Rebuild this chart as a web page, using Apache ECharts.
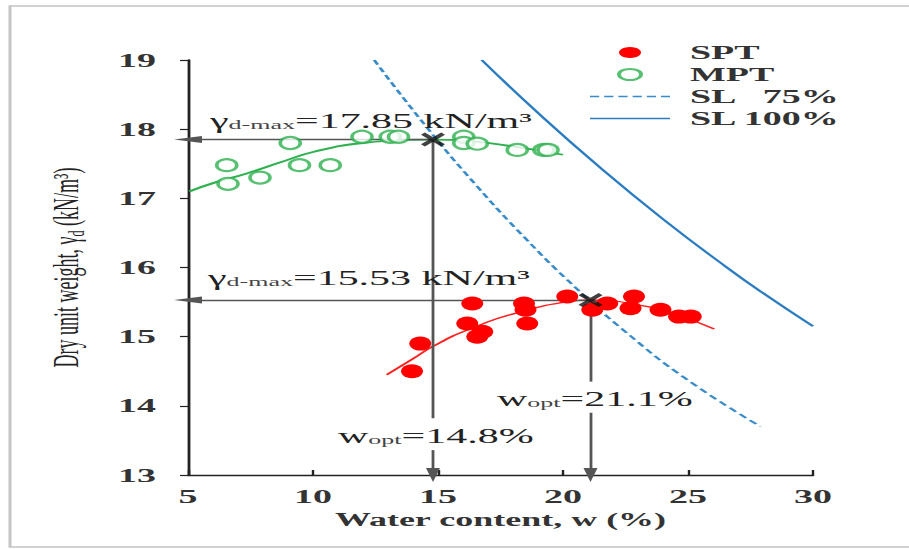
<!DOCTYPE html>
<html>
<head>
<meta charset="utf-8">
<script src="https://cdn.jsdelivr.net/npm/echarts@6/dist/echarts.min.js"></script>
<style>
html, body { margin: 0; padding: 0; background: #fff; overflow: hidden; }
/* the original figure is stretched sideways about 2x, so draw at half width and stretch */
#main { width: 454.5px; height: 549px; transform: scaleX(2); transform-origin: 0 0; }
</style>
</head>
<body>
<div id="main"></div>
<script>
// tick labels
var xTicks = [5, 10, 15, 20, 25, 30];
var yTicks = [13, 14, 15, 16, 17, 18, 19];

// measured points (w %, dry unit weight kN/m3)
var sptPoints = [[13.96, 14.5], [14.29, 14.9], [16.17, 15.19], [16.37, 15.48], [16.57, 15.0], [16.77, 15.07],
	[18.44, 15.48], [18.5, 15.39], [18.57, 15.19], [20.17, 15.58], [21.17, 15.39], [21.77, 15.48],
	[22.84, 15.58], [22.7, 15.41], [23.9, 15.39], [24.64, 15.29], [25.11, 15.29]];
var mptPoints = [[6.55, 17.48], [6.6, 17.21], [7.88, 17.3], [9.09, 17.8], [9.46, 17.48], [10.69, 17.48],
	[11.96, 17.89], [13.09, 17.89], [13.42, 17.89], [16.03, 17.89], [16.03, 17.8], [16.57, 17.79],
	[18.17, 17.7], [19.24, 17.7], [19.4, 17.7]];

// fitted curves
var sptCurve = [[12.95, 14.45], [14, 14.68], [14.8, 14.86], [16.2, 15.1], [18.3, 15.36], [20.3, 15.51],
	[21.1, 15.53], [23, 15.46], [24.5, 15.32], [26.05, 15.11]];
var mptCurve = [[5.05, 17.1], [6, 17.22], [7.35, 17.36], [8.7, 17.52], [10, 17.67], [12, 17.8],
	[14.8, 17.85], [16.5, 17.82], [18, 17.75], [20, 17.63]];

// saturation lines
var sl75 = [[12.45, 19.0], [14.5, 18.05], [16.5, 17.2], [18.5, 16.42], [20.5, 15.71], [22.5, 15.07], [25, 14.37], [27.9, 13.7]];
var sl100 = [[16.75, 19.0], [19, 18.235], [21.5, 17.44], [24, 16.7], [26.5, 16.015], [28, 15.63], [30, 15.15]];

// optimum points
var wOpt = [14.8, 21.1];
var gMax = [17.85, 15.53];

var serif = 'Liberation Serif, Times New Roman, serif';
var myChart = echarts.init(document.getElementById('main'), null, { renderer: 'svg' });

var xMark = 'path://M0,1.6L1.6,0L5,3.4L8.4,0L10,1.6L6.6,5L10,8.4L8.4,10L5,6.6L1.6,10L0,8.4L3.4,5Z';
var dashIcon = 'path://M0,0h4.6v1.6h-4.6zM7.1,0h4.6v1.6h-4.6zM14.2,0h4.6v1.6h-4.6zM21.3,0h4.6v1.6h-4.6zM28.4,0h4.6v1.6h-4.6zM35.5,0h4.5v1.6h-4.5z';
var lineIcon = 'path://M0,0h40v1.6h-40z';
var subStyle = { fontFamily: serif, fontSize: 13, fill: '#444', verticalAlign: 'bottom' };

var option = {
	backgroundColor: '#fff',
	animation: false,
	grid: { left: 94, right: 48.5, top: 60, bottom: 74 },
	xAxis: {
		type: 'value',
		min: xTicks[0],
		max: xTicks[xTicks.length - 1],
		interval: xTicks[1] - xTicks[0],
		name: 'Water content, w (%)',
		nameLocation: 'middle',
		nameGap: 36,
		nameTextStyle: { fontFamily: serif, fontSize: 18, fontWeight: 'bold', color: '#333' },
		axisLine: { lineStyle: { color: '#222', width: 1.4 } },
		axisTick: { inside: true, length: 5, lineStyle: { color: '#222', width: 1.2 } },
		axisLabel: { fontFamily: serif, fontSize: 19, fontWeight: 'bold', color: '#333', margin: 12 },
		splitLine: { show: false }
	},
	yAxis: {
		type: 'value',
		min: yTicks[0],
		max: yTicks[yTicks.length - 1],
		interval: yTicks[1] - yTicks[0],
		name: 'Dry unit weight, γ{s|d} (kN/m³)',
		nameLocation: 'middle',
		nameGap: 50,
		nameTextStyle: {
			fontFamily: serif, fontSize: 18, color: '#222', lineHeight: 22,
			rich: { s: { fontFamily: serif, fontSize: 12, color: '#222', verticalAlign: 'bottom', lineHeight: 22 } }
		},
		axisLine: { lineStyle: { color: '#222', width: 1.4 } },
		axisTick: { inside: false, length: 4, lineStyle: { color: '#222', width: 1.2 } },
		axisLabel: { fontFamily: serif, fontSize: 19, fontWeight: 'bold', color: '#333', margin: 16 },
		splitLine: { show: false }
	},
	legend: {
		orient: 'vertical',
		left: 295,
		top: 43,
		padding: 0,
		itemGap: 3,
		itemWidth: 40,
		itemHeight: 11,
		textStyle: { fontFamily: serif, fontSize: 19, fontWeight: 'bold', color: '#333', padding: [0, 0, 0, 5] },
		data: [
			{ name: 'SPT' },
			{ name: 'MPT' },
			{ name: 'SL \u00a0\u00a075%', icon: dashIcon, itemStyle: { color: '#3a8cc8' } },
			{ name: 'SL 100%', icon: lineIcon, itemStyle: { color: '#2b7cc0' } }
		]
	},
	graphic: [
		{ type: 'rect', silent: true, z: -10,
			shape: { x: 5, y: 6, width: 460, height: 541 },
			style: { fill: 'none', stroke: '#c4c4c4', lineWidth: 1.5 } },
		{ type: 'text', x: 105, y: 121, z: 100,
			style: { text: 'γ{s|d-max}=17.85 kN/m³', fontFamily: serif, fontSize: 21, fill: '#222', verticalAlign: 'middle', rich: { s: subStyle } } },
		{ type: 'text', x: 104, y: 278, z: 100,
			style: { text: 'γ{s|d-max}=15.53 kN/m³', fontFamily: serif, fontSize: 21, fill: '#222', verticalAlign: 'middle', rich: { s: subStyle } } },
		{ type: 'text', x: 169, y: 436, z: 100,
			style: { text: 'w{s|opt}=14.8%', fontFamily: serif, fontSize: 21, fill: '#222', verticalAlign: 'middle', rich: { s: subStyle } } },
		{ type: 'text', x: 248.5, y: 399, z: 100,
			style: { text: 'w{s|opt}=21.1%', fontFamily: serif, fontSize: 21, fill: '#222', verticalAlign: 'middle', rich: { s: subStyle } } }
	],
	series: [
		{
			name: 'SL \u00a0\u00a075%',
			type: 'line',
			data: sl75,
			smooth: true,
			symbol: 'none',
			lineStyle: { color: '#3a8cc8', width: 1.6, type: [5, 3] },
			itemStyle: { color: '#3a8cc8' },
			z: 3
		},
		{
			name: 'SL 100%',
			type: 'line',
			data: sl100,
			smooth: true,
			symbol: 'none',
			lineStyle: { color: '#2b7cc0', width: 1.6 },
			itemStyle: { color: '#2b7cc0' },
			z: 3
		},
		{
			name: 'SPT fit',
			type: 'line',
			data: sptCurve,
			smooth: true,
			symbol: 'none',
			lineStyle: { color: '#ff2020', width: 1.4 },
			z: 4
		},
		{
			name: 'MPT fit',
			type: 'line',
			data: mptCurve,
			smooth: true,
			symbol: 'none',
			lineStyle: { color: '#2eb04f', width: 1.8 },
			z: 4
		},
		{
			name: 'SPT',
			type: 'scatter',
			data: sptPoints,
			symbol: 'circle',
			symbolSize: [11, 14],
			itemStyle: { color: '#ff0000', opacity: 1 },
			z: 5
		},
		{
			name: 'MPT',
			type: 'scatter',
			data: mptPoints,
			symbol: 'emptyCircle',
			symbolSize: [10, 12],
			itemStyle: { color: '#2eb04f', borderColor: '#2eb04f', borderWidth: 1.6 },
			z: 5
		},
		{
			name: 'optimum',
			type: 'scatter',
			data: wOpt.map(function(w, i) { return [w, gMax[i]]; }),
			symbol: xMark,
			symbolSize: [12, 14],
			itemStyle: { color: '#111' },
			z: 8,
			markLine: {
				silent: true,
				symbol: ['none', 'triangle'],
				symbolSize: [7, 14],
				label: { show: false },
				lineStyle: { color: '#555', width: 1.4, type: 'solid' },
				data: [
					[{ coord: [wOpt[0], gMax[0]] }, { coord: [xTicks[0], gMax[0]] }],
					[{ coord: [wOpt[0], gMax[0]] }, { coord: [wOpt[0], 13.82], symbol: 'none' }],
					[{ coord: [wOpt[0], 13.36] }, { coord: [wOpt[0], yTicks[0]] }],
					[{ coord: [wOpt[1], gMax[1]] }, { coord: [xTicks[0], gMax[1]] }],
					[{ coord: [wOpt[1], gMax[1]] }, { coord: [wOpt[1], 14.35], symbol: 'none' }],
					[{ coord: [wOpt[1], 13.9] }, { coord: [wOpt[1], yTicks[0]] }]
				]
			}
		}
	]
};
myChart.setOption(option);
</script>
</body>
</html>
